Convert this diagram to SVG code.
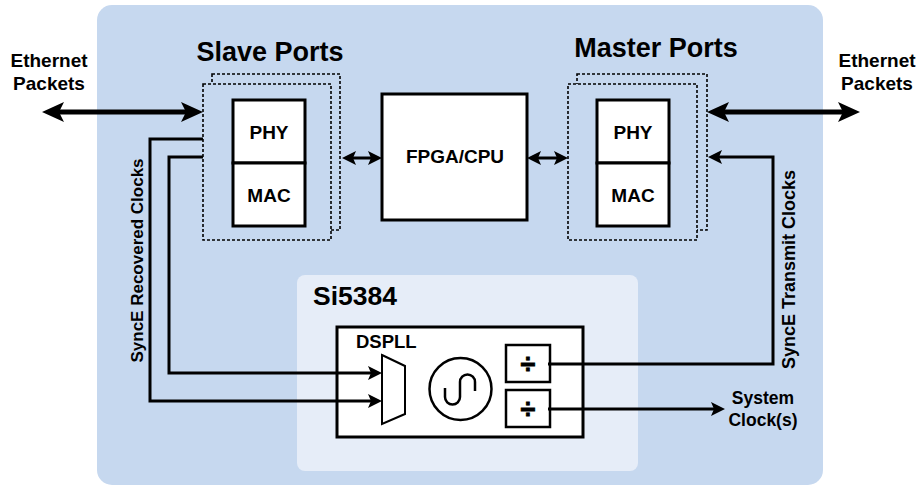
<svg xmlns="http://www.w3.org/2000/svg" width="920" height="488" viewBox="0 0 920 488">
<style>
text{font-family:"Liberation Sans",Arial,sans-serif;font-weight:bold;fill:#000}
.box{fill:#fff;stroke:#000;stroke-width:3}
.dash{stroke:#000;stroke-width:1.6;stroke-dasharray:3,2}
.wire{fill:none;stroke:#000;stroke-width:3}
.big{fill:none;stroke:#000;stroke-width:5}
.mid{text-anchor:middle}
.div{font-size:27px;stroke:#000;stroke-width:0.8}
</style>
<defs>
<marker id="bigHead" markerUnits="userSpaceOnUse" markerWidth="22" markerHeight="20" refX="5" refY="10" orient="auto-start-reverse">
<path d="M0,0 L22,10 L0,20 L5,10 z" fill="#000"/>
</marker>
<marker id="smallHead" markerUnits="userSpaceOnUse" markerWidth="14" markerHeight="14" refX="3" refY="7" orient="auto-start-reverse">
<path d="M0,0 L14,7 L0,14 L3,7 z" fill="#000"/>
</marker>
</defs>

<g id="system-board">
<rect x="97" y="5" width="726" height="480" rx="15" fill="#c6d8ef"/>
</g>

<g id="si5384">
<rect x="297" y="275" width="341" height="196" rx="8" fill="#e6edf8"/>
<text x="313" y="305" font-size="26.5">Si5384</text>
</g>

<g id="labels">
<text class="mid" x="49" y="67" font-size="19">Ethernet</text>
<text class="mid" x="49" y="90" font-size="19">Packets</text>
<text class="mid" x="877" y="67" font-size="19">Ethernet</text>
<text class="mid" x="877" y="90" font-size="19">Packets</text>
<text class="mid" x="270" y="61" font-size="27">Slave Ports</text>
<text class="mid" x="656" y="57" font-size="27">Master Ports</text>
<text class="mid" transform="translate(143,260.5) rotate(-90)" font-size="17">SyncE Recovered Clocks</text>
<text class="mid" transform="translate(795,269.5) rotate(-90)" font-size="18">SyncE Transmit Clocks</text>
<text class="mid" x="763" y="404" font-size="17.5">System</text>
<text class="mid" x="763" y="426" font-size="17.5">Clock(s)</text>
</g>

<g id="slave-ports">
<rect class="dash" x="212" y="74" width="128" height="156" fill="none"/>
<rect class="dash" x="203" y="84" width="128" height="156" fill="#c6d8ef"/>
<rect class="box" x="233" y="100" width="72" height="63"/>
<rect class="box" x="233" y="163" width="72" height="63"/>
<text class="mid" x="269" y="139" font-size="19">PHY</text>
<text class="mid" x="269" y="202" font-size="19">MAC</text>
</g>

<g id="master-ports">
<rect class="dash" x="577" y="74" width="130" height="156" fill="none"/>
<rect class="dash" x="568" y="84" width="129" height="156" fill="#c6d8ef"/>
<rect class="box" x="597" y="100" width="72" height="63"/>
<rect class="box" x="597" y="163" width="72" height="63"/>
<text class="mid" x="633" y="139" font-size="19">PHY</text>
<text class="mid" x="633" y="202" font-size="19">MAC</text>
</g>

<g id="fpga-cpu">
<rect class="box" x="382" y="94" width="145" height="126"/>
<text class="mid" x="455" y="163" font-size="19">FPGA/CPU</text>
</g>

<g id="dspll">
<rect class="box" x="337" y="327" width="246" height="110"/>
<text x="356" y="348" font-size="18.5">DSPLL</text>
<polygon points="382,355 405,366 405,414 382,424" fill="#fff" stroke="#000" stroke-width="2"/>
<circle cx="460.5" cy="389" r="31" fill="none" stroke="#000" stroke-width="2.5"/>
<path d="M445,388 V397 A7.5,7.5 0 0 0 460,397 V382 A7.5,7.5 0 0 1 475,382 V391" fill="none" stroke="#000" stroke-width="2.5"/>
</g>

<g id="divider-1">
<rect x="506" y="345" width="44" height="37" fill="#fff" stroke="#000" stroke-width="2.5"/>
<text class="mid div" x="528" y="373">÷</text>
</g>
<g id="divider-2">
<rect x="506" y="390" width="44" height="37" fill="#fff" stroke="#000" stroke-width="2.5"/>
<text class="mid div" x="528" y="418">÷</text>
</g>

<g id="connectors">
<line class="big" x1="59" y1="112" x2="186" y2="112" marker-start="url(#bigHead)" marker-end="url(#bigHead)"/>
<line class="big" x1="724" y1="112" x2="843" y2="112" marker-start="url(#bigHead)" marker-end="url(#bigHead)"/>
<line class="wire" x1="353" y1="158" x2="371" y2="158" marker-start="url(#smallHead)" marker-end="url(#smallHead)"/>
<line class="wire" x1="538" y1="158" x2="557" y2="158" marker-start="url(#smallHead)" marker-end="url(#smallHead)"/>
<polyline class="wire" points="203,139 150,139 150,401 371,401" marker-end="url(#smallHead)"/>
<polyline class="wire" points="203,157 169,157 169,373 371,373" marker-end="url(#smallHead)"/>
<polyline class="wire" points="548,364 773,364 773,157 719,157" marker-end="url(#smallHead)"/>
<line class="wire" x1="548" y1="409" x2="714" y2="409" marker-end="url(#smallHead)"/>
</g>
</svg>
